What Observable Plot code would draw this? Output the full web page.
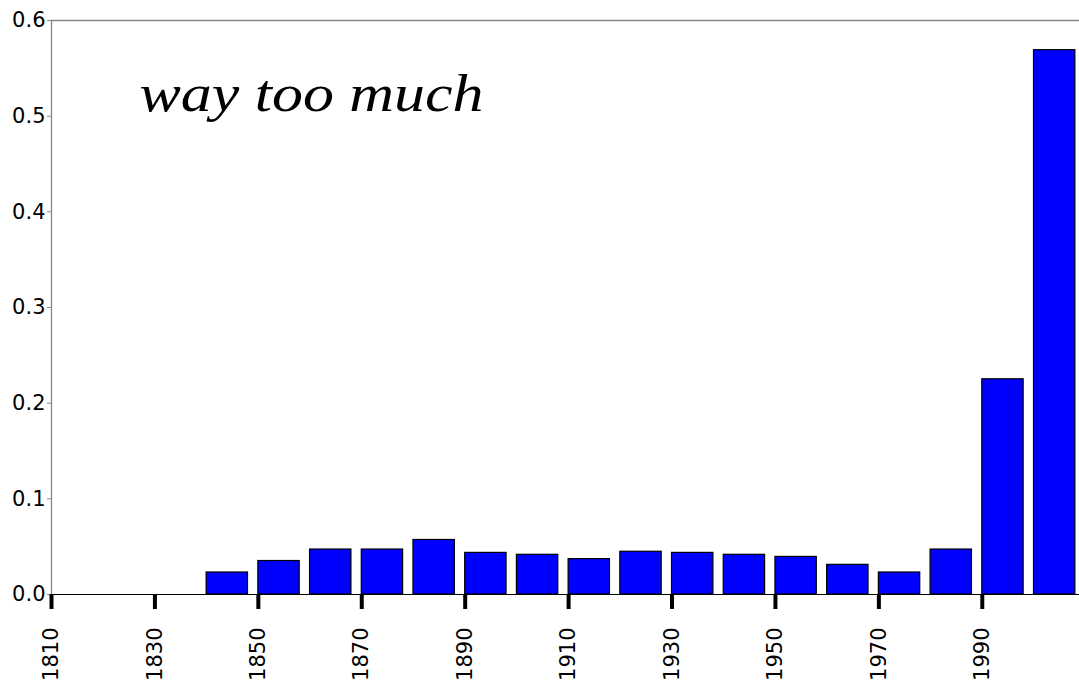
<!DOCTYPE html>
<html>
<head>
<meta charset="utf-8">
<script src="https://cdn.jsdelivr.net/npm/d3@7"></script>
<script src="https://cdn.jsdelivr.net/npm/@observablehq/plot@0.6"></script>
<style>
  html, body { margin: 0; padding: 0; background: #fff; }
  #chart svg { display: block; }
</style>
</head>
<body>
<div id="chart"></div>
<script>
const decades = [1840, 1850, 1860, 1870, 1880, 1890, 1900, 1910, 1920, 1930, 1940, 1950, 1960, 1970, 1980, 1990, 2000];
const shares  = [0.023, 0.035, 0.047, 0.047, 0.057, 0.0435, 0.0415, 0.037, 0.0447, 0.0435, 0.0415, 0.0393, 0.031, 0.023, 0.047, 0.225, 0.569];
const xTicks = [1810, 1830, 1850, 1870, 1890, 1910, 1930, 1950, 1970, 1990];
const yTicks = [0, 0.1, 0.2, 0.3, 0.4, 0.5, 0.6];
const barWidth = 8;
const annotation = ["way too much"];

const data = decades.map((d, i) => ({x1: d, x2: d + barWidth, y: shares[i]}));

const chart = Plot.plot({
  width: 1079,
  height: 686,
  marginLeft: 51,
  marginRight: 0,
  marginTop: 20,
  marginBottom: 92,
  style: {fontFamily: "DejaVu Sans", fontSize: "21px", color: "#000", background: "#fff"},
  x: {domain: [1810, 2008.8]},
  y: {domain: [0, 0.6]},
  marks: [
    Plot.rectY(data, {x1: "x1", x2: "x2", y: "y", fill: "#0000ff", stroke: "#000", strokeWidth: 1.2}),
    Plot.ruleY([0.6], {stroke: "#888", strokeWidth: 1.3}),
    Plot.ruleX([1810], {stroke: "#888", strokeWidth: 1.3}),
    Plot.ruleY([0], {stroke: "#000", strokeWidth: 1.2}),
    Plot.axisY({ticks: yTicks, tickFormat: d3.format(".1f"), tickSize: 4, tickPadding: 2, stroke: "#888", fill: "#000", fontSize: 21, label: null}),
    Plot.axisX({ticks: xTicks, tickFormat: d => String(d), tickSize: 15, strokeWidth: 4, stroke: "#000", fill: "#000", tickRotate: -90, tickPadding: 18, fontSize: 21, label: null}),
    Plot.text(annotation, {text: d => d, frameAnchor: "top-left", dx: 88, dy: 90, textAnchor: "start", lineAnchor: "bottom", fontSize: 52, fontStyle: "italic", fontFamily: "Liberation Serif", fill: "#000"})
  ]
});
chart.querySelectorAll("text").forEach(t => {
  if (t.textContent === annotation[0]) {
    t.setAttribute("textLength", "344");
    t.setAttribute("lengthAdjust", "spacingAndGlyphs");
  }
});
document.getElementById("chart").appendChild(chart);
</script>
</body>
</html>
